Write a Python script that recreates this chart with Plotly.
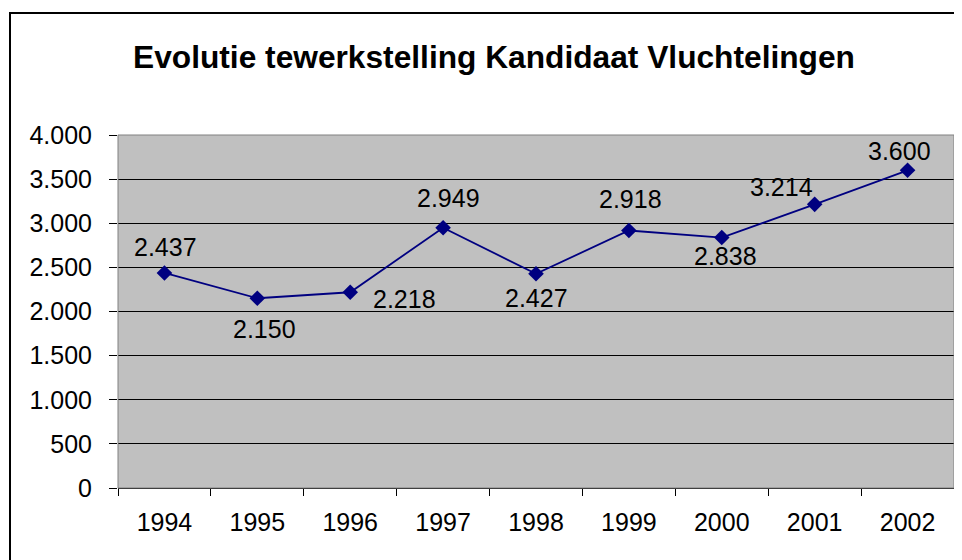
import plotly.graph_objects as go

years = ["1994", "1995", "1996", "1997", "1998", "1999", "2000", "2001", "2002"]
values = [2437, 2150, 2218, 2949, 2427, 2918, 2838, 3214, 3600]
title_text = "Evolutie tewerkstelling Kandidaat Vluchtelingen"

# label offsets (pixels) for the data labels, Excel-like placement
label_dx = [1, 7, 54, 5, 0, 2, 4, -33, -8]
label_dy = [-26, 31, 7, -30, 24, -31, 18, -17, -19]

NAVY = "#000080"
FONT = "Liberation Sans, Arial, sans-serif"
OFF = 8  # page body offset

fig = go.Figure()
fig.add_trace(go.Scatter(
    x=years, y=values, mode="lines+markers",
    line=dict(color=NAVY, width=1.8),
    marker=dict(symbol="diamond", size=12, color=NAVY),
    hoverinfo="skip", showlegend=False,
))

def fmt(v):
    return f"{v:,}".replace(",", ".")

for i, (v, dx, dy) in enumerate(zip(values, label_dx, label_dy)):
    fig.add_annotation(x=i, y=v, xref="x", yref="y", text=fmt(v), showarrow=False,
                       xshift=dx, yshift=-dy,
                       font=dict(family=FONT, size=25, color="black"))

W, H = 962 - OFF, 560 - OFF
L, T = 118 - OFF, 135 - OFF
R = W - (954 - OFF)
B = H - (488 - OFF)
pw, ph = W - L - R, H - T - B

# outer chart frame
fig.add_shape(type="rect", xref="paper", yref="paper",
              x0=(10 - OFF - L) / pw, x1=(W + 10 - L) / pw,
              y0=-(B + 10) / ph, y1=(H - B - (13 - OFF)) / ph,
              line=dict(color="black", width=2), layer="below")
# plot area border
fig.add_shape(type="rect", xref="paper", yref="paper", x0=0, x1=1, y0=0, y1=1,
              line=dict(color="#808080", width=1), layer="above")

fig.update_layout(
    width=W, height=H,
    margin=dict(l=L, r=R, t=T, b=B),
    paper_bgcolor="white", plot_bgcolor="#C0C0C0",
    separators=",.",
    title=dict(text="<b>" + title_text + "</b>", x=(494 - OFF) / W, xanchor="center",
               y=1 - (57 - OFF) / H, yanchor="middle",
               font=dict(family=FONT, size=31.7, color="black")),
    font=dict(family=FONT, color="black"),
)
fig.update_xaxes(
    type="category", range=[-0.5, 8.5], tickson="boundaries",
    ticks="outside", ticklen=7, tickcolor="black", tickwidth=1,
    showline=True, linecolor="black", linewidth=1,
    showgrid=False, tickfont=dict(size=25, family=FONT, color="black"),
    ticklabelstandoff=12,
)
fig.update_yaxes(
    range=[0, 4000], dtick=500, tickformat=",d",
    ticks="outside", ticklen=8, tickcolor="black",
    showline=False, showgrid=True, gridcolor="black", gridwidth=1,
    zeroline=False, ticklabelstandoff=12,
    tickfont=dict(size=25, family=FONT, color="black"),
)
fig.write_html("out.html")
